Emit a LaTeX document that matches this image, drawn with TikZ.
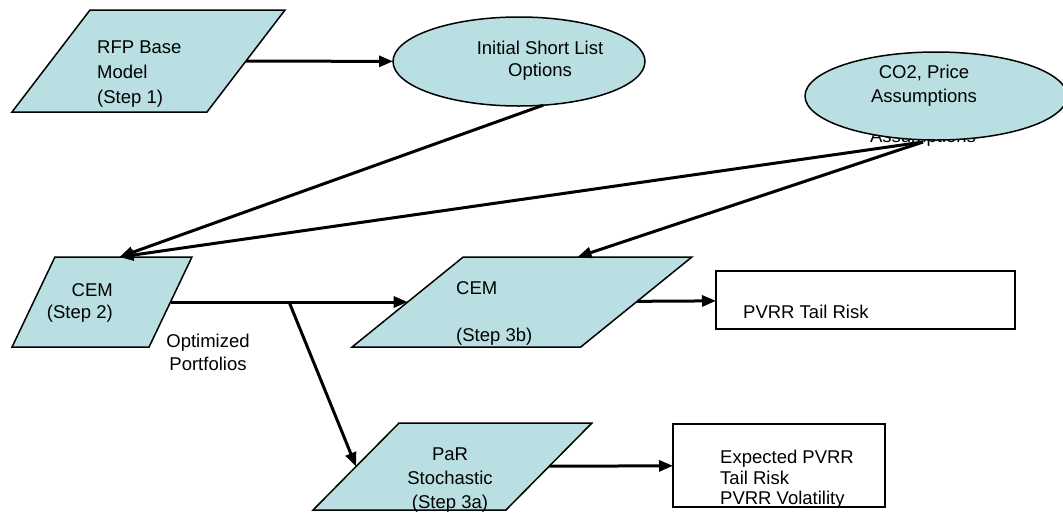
\documentclass[tikz,border=0pt]{standalone}
\usepackage{fontspec}
\setmainfont{Liberation Sans}
\usetikzlibrary{shapes.geometric, arrows.meta, positioning, calc}
\definecolor{stepfill}{RGB}{185, 223, 226}

\tikzset{
  stepbox/.style={trapezium, trapezium stretches=true, draw, fill=stepfill, line width=1.5pt, inner sep=2pt, outer sep=0pt},
  inputbox/.style={ellipse, draw, fill=stepfill, line width=1.5pt, inner sep=0pt, outer sep=0pt},
  resultbox/.style={rectangle, draw, fill=white, line width=1.5pt, inner sep=0pt, outer sep=0pt},
  txt/.style={inner sep=0pt, font=\fontsize{18.5}{24}\selectfont},
  flow/.style={line width=3pt, -{Triangle[length=14pt, width=11pt]}}
}

\begin{document}
\begin{tikzpicture}[x=1pt, y=-1pt]
  \useasboundingbox (0,0) rectangle (1063,512);

  % left-over text under the CO2 ellipse
  \node[txt, anchor=base] (asmp) at (923,142) {Assumptions};

  % inputs
  \node[inputbox, minimum width=252pt, minimum height=89pt] (opts) at (519,61.5) {};
  \node[txt, font=\fontsize{18.5}{22}\selectfont, align=center, anchor=north] (optstxt) at (540,41) {Initial Short List\\Options};

  \node[inputbox, minimum width=262pt, minimum height=88pt] (co2) at (936,96) {};
  \node[txt, align=center, anchor=north] (co2txt) at (924,65) {CO2, Price\\Assumptions};

  % model steps
  \node[stepbox, trapezium left angle=56.3, trapezium right angle=123.7, minimum width=273pt, minimum height=102pt] (rfp) at (148.5,61) {};
  \node[txt, font=\fontsize{18.5}{25}\selectfont, align=left, anchor=north west] (rfptxt) at (97,41) {RFP Base\\Model\\(Step 1)};

  \node[stepbox, trapezium left angle=65.5, trapezium right angle=114.5, minimum width=180pt, minimum height=90pt] (cem2) at (102,302) {};
  \node[txt, font=\fontsize{18.5}{22}\selectfont, align=right, anchor=north east] (cem2txt) at (113,283) {CEM\\(Step 2)};

  \node[stepbox, trapezium left angle=46.6, trapezium right angle=133.4, minimum width=340pt, minimum height=90pt] (cem3b) at (522,302) {};
  \node[txt, align=left, anchor=north west] (cem3btxt) at (456,281) {CEM\\[23pt](Step 3b)};

  \node[stepbox, trapezium left angle=51.2, trapezium right angle=128.8, minimum width=279pt, minimum height=87pt] (par) at (452.5,466.5) {};
  \node[txt, align=center, anchor=north] (partxt) at (450,448) {PaR\\Stochastic\\(Step 3a)};

  % results
  \node[resultbox, minimum width=299pt, minimum height=58pt] (tail) at (865.5,300) {};
  \node[txt, anchor=north west] (tailtxt) at (743,305) {PVRR Tail Risk};

  \node[resultbox, minimum width=212pt, minimum height=83pt] (exp) at (779,465.5) {};
  \node[txt, font=\fontsize{18.5}{20.5}\selectfont, align=left, anchor=north west] (exptxt) at (720,450) {Expected PVRR\\Tail Risk\\PVRR Volatility};

  \node[txt, font=\fontsize{18.5}{23}\selectfont, align=center, anchor=north] (portf) at (208,334) {Optimized\\Portfolios};

  % connectors
  \draw[flow] (rfp) -- (opts);
  \draw[flow] (opts.-61) -- ([xshift=-4pt]cem2.top side);
  \draw[flow] (asmp.base) -- ([xshift=-4pt]cem2.top side);
  \draw[flow] (asmp.base) -- (cem3b.top side);
  \draw[flow] (cem2) -- coordinate (fork) (cem3b);
  \draw[flow] (fork) -- (par.left side);
  \draw[flow] (cem3b) -- (tail);
  \draw[flow] (par) -- (exp);
\end{tikzpicture}
\end{document}
